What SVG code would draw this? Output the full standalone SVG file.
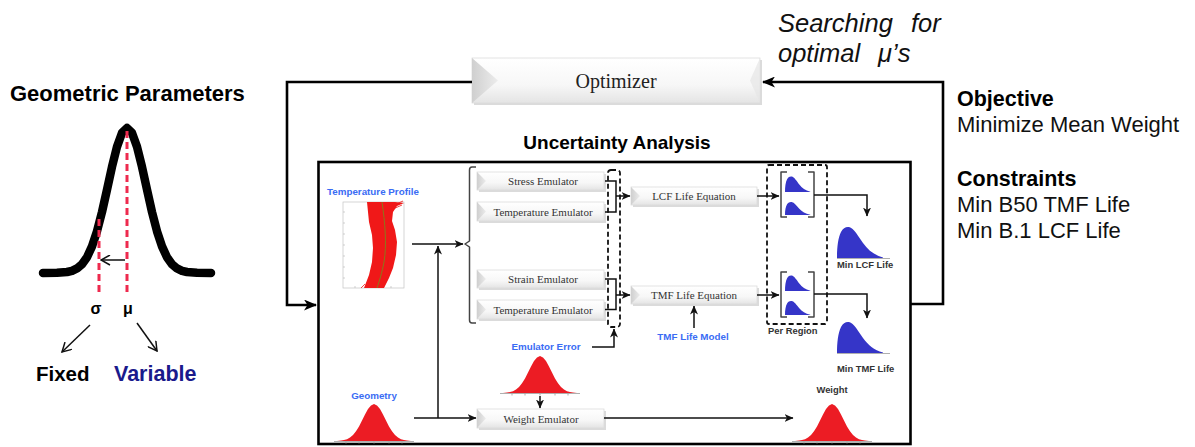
<svg xmlns="http://www.w3.org/2000/svg" width="1195" height="447" viewBox="0 0 1195 447">
  <style>
    .sans { font-family: "Liberation Sans", Arial, sans-serif; }
    .serif { font-family: "Liberation Serif", "Times New Roman", serif; }
    .title { font-family: "Liberation Sans", Arial, sans-serif; font-weight: bold; fill: #000; }
    .lbl-blue { font-family: "Liberation Sans", Arial, sans-serif; font-weight: bold; font-size: 9.8px; fill: #3a6cf4; }
    .lbl-dark { font-family: "Liberation Sans", Arial, sans-serif; font-weight: bold; font-size: 9.4px; fill: #333; }
    .emu-text { font-family: "Liberation Serif", "Times New Roman", serif; font-size: 11px; fill: #333; text-anchor: middle; }
    .loop { fill: none; stroke: #000; stroke-width: 2.6; }
    .wire { fill: none; stroke: #111; stroke-width: 1.5; }
    .dash-box { fill: none; stroke: #111; stroke-width: 1.8; stroke-dasharray: 5 3; }
    .bracket { fill: none; stroke: #444; stroke-width: 1.5; stroke-linejoin: round; }
    .face { fill: url(#faceGrad); stroke: #dcdcdc; stroke-width: 0.8; }
    .bevel-l { fill: url(#bevelGrad); }
    .bevel-r { fill: #e6e6e6; }
    .shadow { fill: #bdbdbd; opacity: 0.55; }
    .red-pdf { fill: #ec1c24; }
    .blue-pdf { fill: #3535c8; }
    .axis { fill: none; stroke: #9a9a9a; stroke-width: 0.8; }
    .red-dash { fill: none; stroke: #ee2a4e; stroke-width: 3; stroke-dasharray: 7 4; }
  </style>
  <defs>
    <linearGradient id="faceGrad" x1="0" y1="0" x2="0" y2="1">
      <stop offset="0" stop-color="#ffffff"/>
      <stop offset="0.6" stop-color="#f7f7f7"/>
      <stop offset="1" stop-color="#e4e4e4"/>
    </linearGradient>
    <linearGradient id="bevelGrad" x1="0" y1="0" x2="1" y2="0">
      <stop offset="0" stop-color="#cfcfcf"/>
      <stop offset="1" stop-color="#ececec"/>
    </linearGradient>
    <marker id="arrowBig" markerUnits="userSpaceOnUse" markerWidth="13" markerHeight="11" refX="12" refY="5.5" orient="auto">
      <path d="M0,0 L13,5.5 L0,11 L3.5,5.5 Z" fill="#000"/>
    </marker>
    <marker id="arrowSm" markerUnits="userSpaceOnUse" markerWidth="9" markerHeight="8" refX="8.5" refY="4" orient="auto">
      <path d="M0,0 L9,4 L0,8 L2.5,4 Z" fill="#111"/>
    </marker>
    <marker id="arrowOpen" markerUnits="userSpaceOnUse" markerWidth="11" markerHeight="11" refX="9.5" refY="5.5" orient="auto">
      <path d="M0.5,0.5 L9.5,5.5 L0.5,10.5" fill="none" stroke="#111" stroke-width="1.5"/>
    </marker>
    <!-- normal density, origin at left end of baseline -->
    <path id="normalPdf" d="M0,0 L4,-0.4 L7,-0.9 L10,-1.8 L13,-3.4 L16,-6 L19,-9.7 L22,-14.6 L25,-20.4 L28,-26.5 L31,-31.9 L34,-35.6 L37,-37 L40,-35.6 L43,-31.9 L46,-26.5 L49,-20.4 L52,-14.6 L55,-9.7 L58,-6 L61,-3.4 L64,-1.8 L67,-0.9 L70,-0.4 L74,0 Z"/>
    <g id="normalAxis">
      <path class="axis" d="M-3,0.5 H77 M9,0.5 v2 M22,0.5 v2 M37,0.5 v2 M52,0.5 v2 M65,0.5 v2"/>
    </g>
    <!-- right-skewed life density, origin at left end of baseline -->
    <path id="skewPdf" d="M0,0 C0,-10 1,-20 4,-26 C6,-30 9,-31.5 12,-31 C17,-30 21,-22 26,-15 C31,-8 37,-3 46,-0.5 L46,0 Z"/>
  </defs>

  <rect x="0" y="0" width="1195" height="447" fill="#ffffff"/>

  <!-- geometric parameter distribution -->
  <g id="geometric-parameters">
    <text class="title" x="10" y="101" font-size="22">Geometric Parameters</text>
    <polyline fill="none" stroke="#000" stroke-width="8.5" stroke-linecap="round" stroke-linejoin="round"
      points="43,273 57,272.8 67,272 72,270.8 77,268.4 82,264.2 87,257.2 92,246.4 97,231.3 102,212 107,189.7 112,166.8 117,146.7 122,132.9 127,128 132,132.9 137,146.7 142,166.8 147,189.7 152,212 157,231.3 162,246.4 167,257.2 172,264.2 177,268.4 182,270.8 187,272 197,272.8 211,273"/>
    <line class="red-dash" x1="127" y1="131" x2="127" y2="292"/>
    <line class="red-dash" x1="99" y1="219" x2="99" y2="292"/>
    <line x1="125" y1="260" x2="101" y2="260" stroke="#111" stroke-width="1.5" marker-end="url(#arrowOpen)"/>
    <text class="title" x="96" y="314" font-size="16" text-anchor="middle">σ</text>
    <text class="title" x="128" y="314" font-size="16" text-anchor="middle">μ</text>
    <line x1="90" y1="325" x2="62" y2="352" stroke="#111" stroke-width="1.5" marker-end="url(#arrowOpen)"/>
    <line x1="137" y1="323" x2="157" y2="351" stroke="#111" stroke-width="1.5" marker-end="url(#arrowOpen)"/>
    <text class="title" x="36" y="381" font-size="20.5">Fixed</text>
    <text class="title" x="114" y="381" font-size="21.5" style="fill:#1a1a8c">Variable</text>
  </g>

  <!-- optimizer -->
  <g id="optimizer">
    <rect class="shadow" x="474" y="60" width="288" height="45"/>
    <rect class="face" x="472" y="58" width="288" height="45"/>
    <polygon class="bevel-l" points="472,58 498,80.5 472,103"/>
    <polygon class="bevel-r" points="760,58 750,80.5 760,103" opacity="0.7"/>
    <text class="serif" x="616" y="88" font-size="20" fill="#222" text-anchor="middle">Optimizer</text>
  </g>

  <g id="search-note">
    <text class="sans" font-size="25.5" font-style="italic" fill="#111"><tspan x="778" y="32">Searching</tspan><tspan x="911" y="32">for</tspan></text>
    <text class="sans" font-size="25.5" font-style="italic" fill="#111"><tspan x="778" y="62">optimal</tspan><tspan x="878" y="62">μ’s</tspan></text>
  </g>

  <g id="problem-statement">
    <text class="title" x="957" y="106" font-size="21.5">Objective</text>
    <text class="sans" x="957" y="132" font-size="22" fill="#111">Minimize Mean Weight</text>
    <text class="title" x="957" y="186" font-size="21.5">Constraints</text>
    <text class="sans" x="957" y="212" font-size="22" fill="#111">Min B50 TMF Life</text>
    <text class="sans" x="957" y="238" font-size="22" fill="#111">Min B.1 LCF Life</text>
  </g>

  <!-- uncertainty analysis frame -->
  <g id="uncertainty-analysis">
    <text class="title" x="617" y="149" font-size="19" text-anchor="middle">Uncertainty Analysis</text>
    <rect x="318.5" y="162" width="592" height="282" fill="none" stroke="#000" stroke-width="2.6"/>
  </g>

  <g id="temperature-profile">
    <text class="lbl-blue" x="327" y="195">Temperature Profile</text>
    <rect x="343" y="202" width="61" height="86" fill="none" stroke="#c4c4c4" stroke-width="0.7"/>
    <path d="M343,212 h2 M343,223 h2 M343,234 h2 M343,245 h2 M343,256 h2 M343,267 h2 M343,278 h2 M355,288 v-2 M367,288 v-2 M379,288 v-2 M391,288 v-2" stroke="#bdbdbd" stroke-width="0.7"/>
    <path d="M367,202 L368,212 L369,222 L372,235 L373,248 L372,262 L369,275 L364,288 L384,288 L389,278 L393,268 L396,255 L397,242 L395,230 L392,221 L393,212 L397,206 L404,203 L395,202 Z" fill="#f01818"/>
    <path d="M392,206 L403,201 M393,209 L402,205 M365,284 L361,288" stroke="#f01818" stroke-width="0.8"/>
    <path d="M382,202 C385,222 387,245 384,262 C382,273 379,282 377,288" fill="none" stroke="#8a7a1a" stroke-width="1"/>
  </g>

  <g id="stress-emulator">
    <rect class="shadow" x="479" y="174" width="127" height="18"/>
    <rect class="face" x="477" y="172" width="127" height="18"/>
    <polygon class="bevel-l" points="477,172 486,181 477,190"/>
    <text class="emu-text" x="543" y="185">Stress Emulator</text>
  </g>
  <g id="temperature-emulator-1">
    <rect class="shadow" x="479" y="204" width="127" height="19"/>
    <rect class="face" x="477" y="202" width="127" height="19"/>
    <polygon class="bevel-l" points="477,202 486,211.5 477,221"/>
    <text class="emu-text" x="543" y="215.5">Temperature Emulator</text>
  </g>
  <g id="strain-emulator">
    <rect class="shadow" x="479" y="272" width="127" height="18"/>
    <rect class="face" x="477" y="270" width="127" height="18"/>
    <polygon class="bevel-l" points="477,270 486,279 477,288"/>
    <text class="emu-text" x="543" y="283">Strain Emulator</text>
  </g>
  <g id="temperature-emulator-2">
    <rect class="shadow" x="479" y="302" width="127" height="19"/>
    <rect class="face" x="477" y="300" width="127" height="19"/>
    <polygon class="bevel-l" points="477,300 486,309.5 477,319"/>
    <text class="emu-text" x="543" y="313.5">Temperature Emulator</text>
  </g>

  <g id="emulator-group">
    <rect class="dash-box" x="608" y="170" width="12" height="157" rx="3"/>
  </g>

  <g id="lcf-life-equation">
    <rect class="shadow" x="633" y="189" width="126" height="18"/>
    <rect class="face" x="631" y="187" width="126" height="18"/>
    <polygon class="bevel-l" points="631,187 640,196 631,205"/>
    <text class="emu-text" x="694" y="200">LCF Life Equation</text>
  </g>
  <g id="tmf-life-equation">
    <rect class="shadow" x="633" y="288" width="126" height="18"/>
    <rect class="face" x="631" y="286" width="126" height="18"/>
    <polygon class="bevel-l" points="631,286 640,295 631,304"/>
    <text class="emu-text" x="694" y="299">TMF Life Equation</text>
  </g>

  <g id="tmf-life-model">
    <text class="lbl-blue" x="693" y="340" text-anchor="middle">TMF Life Model</text>
  </g>

  <g id="per-region">
    <rect class="dash-box" x="767" y="165" width="60" height="159" rx="2"/>
    <text class="lbl-dark" x="768" y="334" font-size="9">Per Region</text>
    <path class="bracket" d="M787,172 H781 V217 H787 M808,172 H814 V217 H808"/>
    <use href="#skewPdf" class="blue-pdf" transform="translate(785,192) scale(0.55,0.5)"/>
    <use href="#skewPdf" class="blue-pdf" transform="translate(785,215) scale(0.55,0.42)"/>
    <path class="bracket" d="M787,272 H781 V317 H787 M808,272 H814 V317 H808"/>
    <use href="#skewPdf" class="blue-pdf" transform="translate(785,291) scale(0.55,0.5)"/>
    <use href="#skewPdf" class="blue-pdf" transform="translate(785,315) scale(0.55,0.45)"/>
  </g>

  <g id="min-lcf-life">
    <use href="#skewPdf" class="blue-pdf" transform="translate(837,258)"/>
    <path class="axis" d="M837,258.5 H890"/>
    <text class="lbl-dark" x="837" y="268">Min LCF Life</text>
  </g>
  <g id="min-tmf-life">
    <use href="#skewPdf" class="blue-pdf" transform="translate(837,353)"/>
    <path class="axis" d="M837,353.5 H890"/>
    <text class="lbl-dark" x="837" y="372">Min TMF Life</text>
  </g>

  <g id="emulator-error">
    <text class="lbl-blue" x="546" y="350" text-anchor="middle">Emulator Error</text>
    <use href="#normalPdf" class="red-pdf" transform="translate(503,393)"/>
    <use href="#normalAxis" transform="translate(503,393)"/>
  </g>

  <g id="geometry">
    <text class="lbl-blue" x="374" y="399" text-anchor="middle">Geometry</text>
    <use href="#normalPdf" class="red-pdf" transform="translate(337,441)"/>
    <use href="#normalAxis" transform="translate(337,441)"/>
  </g>

  <g id="weight-emulator">
    <rect class="shadow" x="479" y="411" width="127" height="19"/>
    <rect class="face" x="477" y="409" width="127" height="19"/>
    <polygon class="bevel-l" points="477,409 486,418.5 477,428"/>
    <text class="emu-text" x="541" y="422.5">Weight Emulator</text>
  </g>

  <g id="weight">
    <text class="lbl-dark" x="832" y="393" font-size="10" text-anchor="middle">Weight</text>
    <use href="#normalPdf" class="red-pdf" transform="translate(795,441)"/>
    <use href="#normalAxis" transform="translate(795,441)"/>
  </g>

  <!-- connectors -->
  <g id="connectors">
    <polyline class="loop" points="472,82 287,82 287,305 316,305" marker-end="url(#arrowBig)"/>
    <polyline class="loop" points="910,304 943,304 943,82 763,82" marker-end="url(#arrowBig)"/>

    <line class="wire" x1="412" y1="244" x2="463" y2="244" marker-end="url(#arrowSm)"/>
    <path class="bracket" d="M476,167 H472 Q469.5,167 469.5,170 V241 L465,244 L469.5,247 V320 Q469.5,323 472,323 H476"/>
    <line class="wire" x1="438" y1="418" x2="438" y2="246" marker-end="url(#arrowSm)"/>
    <line class="wire" x1="414" y1="418" x2="476" y2="418" marker-end="url(#arrowSm)"/>

    <polyline class="wire" points="605,181 616,181 616,212 605,212"/>
    <line class="wire" x1="616" y1="196" x2="630" y2="196" marker-end="url(#arrowSm)"/>
    <polyline class="wire" points="605,279 616,279 616,309.5 605,309.5"/>
    <line class="wire" x1="616" y1="295" x2="630" y2="295" marker-end="url(#arrowSm)"/>

    <polyline class="wire" points="592,347 614,347 614,329" marker-end="url(#arrowSm)"/>
    <line class="wire" x1="694" y1="328" x2="694" y2="306" marker-end="url(#arrowSm)"/>

    <line class="wire" x1="757" y1="196" x2="779" y2="196" marker-end="url(#arrowSm)"/>
    <line class="wire" x1="757" y1="295" x2="779" y2="295" marker-end="url(#arrowSm)"/>
    <polyline class="wire" points="814,195 867,195 867,216" marker-end="url(#arrowSm)"/>
    <polyline class="wire" points="814,294 867,294 867,318" marker-end="url(#arrowSm)"/>

    <line class="wire" x1="540" y1="396" x2="540" y2="408" marker-end="url(#arrowSm)"/>
    <line class="wire" x1="604" y1="418" x2="793" y2="418" marker-end="url(#arrowSm)"/>
  </g>
</svg>
